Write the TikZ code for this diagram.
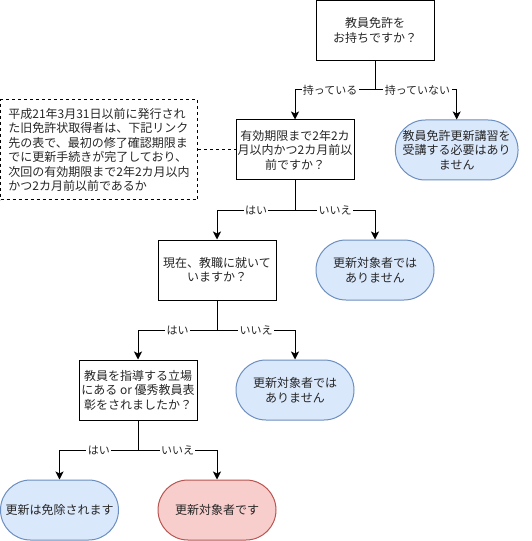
\documentclass[tikz,border=0pt]{standalone}
\usepackage{fontspec}
\setmainfont{Noto Sans CJK JP}
\usetikzlibrary{arrows.meta,positioning}
\definecolor{okfill}{HTML}{DAE8FC}
\definecolor{okline}{HTML}{6C8EBF}
\definecolor{ngfill}{HTML}{F8CECC}
\definecolor{ngline}{HTML}{B85450}
\tikzset{
  qbox/.style={draw,line width=0.75pt,align=center,text=black!85,minimum width=88.5pt,minimum height=45pt,inner sep=1pt,font=\fontsize{9}{10.9}\selectfont},
  endpill/.style={qbox,rounded corners=22.5pt},
  okpill/.style={endpill,draw=okline,fill=okfill},
  ngpill/.style={endpill,draw=ngline,fill=ngfill},
  ans/.style={fill=white,inner sep=1pt,text=black!85,font=\fontsize{8.25}{9}\selectfont},
  flow/.style={-{Stealth[length=6pt,width=6pt,inset=1.5pt]},line width=0.75pt},
  dashline/.style={line width=0.75pt,dash pattern=on 2.25pt off 2.25pt},
}
\begin{document}
\begin{tikzpicture}[x=0.75pt,y=-0.75pt]
  \useasboundingbox (0,0) rectangle (531,541);
  % questions
  \node[qbox] (q1) at (375,30.5) {教員免許を\\お持ちですか？};
  \node[qbox] (q2) at (295,150) {有効期限まで2年2カ\\月以内かつ2カ月前以\\前ですか？};
  \node[qbox] (q3) at (217,270) {現在、教職に就いて\\いますか？};
  \node[qbox] (q4) at (138,390) {教員を指導する立場\\にある or 優秀教員表\\彰をされましたか？};
  % side note
  \node[qbox,dashline,align=left,minimum width=147.75pt,minimum height=75pt] (note) at (99,150) {平成21年3月31日以前に発行され\\た旧免許状取得者は、下記リンク\\先の表で、最初の修了確認期限ま\\でに更新手続きが完了しており、\\次回の有効期限まで2年2カ月以内\\かつ2カ月前以前であるか};
  % results
  \node[okpill,minimum width=92pt] (r1) at (456.7,150) {教員免許更新講習を\\受講する必要はあり\\ません};
  \node[okpill] (r2) at (375,270) {更新対象者では\\ありません};
  \node[okpill] (r3) at (295,390) {更新対象者では\\ありません};
  \node[okpill] (r4) at (59.5,510) {更新は免除されます};
  \node[ngpill] (r5) at (217,510) {更新対象者です};
  % connectors
  \draw[dashline] (note.east) -- (q2.west);
  \draw[flow] (q1.south) -- ++(0,29) -| node[ans,pos=0.28]{持っている} (q2.north);
  \draw[flow] (q1.south) -- ++(0,29) -| node[ans,pos=0.26]{持っていない} (r1.north);
  \draw[flow] (q2.south) -- ++(0,30) -| node[ans,pos=0.25]{はい} (q3.north);
  \draw[flow] (q2.south) -- ++(0,30) -| node[ans,pos=0.25]{いいえ} (r2.north);
  \draw[flow] (q3.south) -- ++(0,30) -| node[ans,pos=0.25]{はい} (q4.north);
  \draw[flow] (q3.south) -- ++(0,30) -| node[ans,pos=0.25]{いいえ} (r3.north);
  \draw[flow] (q4.south) -- ++(0,30) -| node[ans,pos=0.25]{はい} (r4.north);
  \draw[flow] (q4.south) -- ++(0,30) -| node[ans,pos=0.25]{いいえ} (r5.north);
\end{tikzpicture}
\end{document}
